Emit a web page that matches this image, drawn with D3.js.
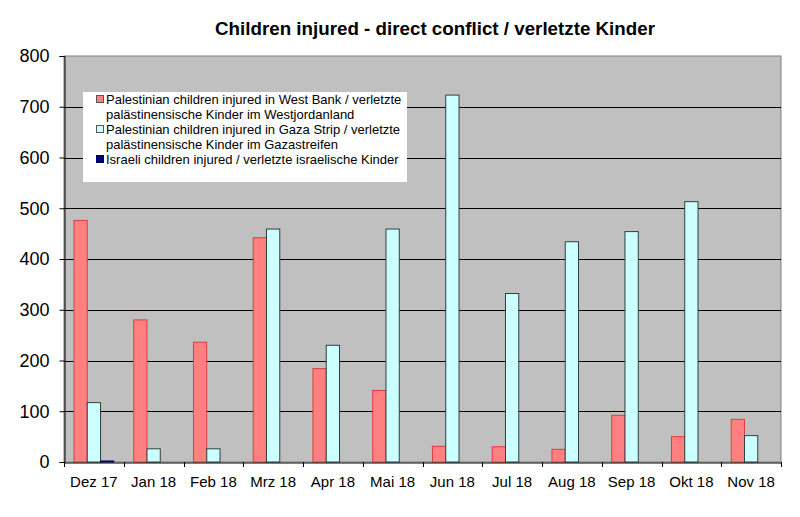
<!DOCTYPE html>
<html>
<head>
<meta charset="utf-8">
<script src="https://cdn.jsdelivr.net/npm/d3@7"></script>
<style>
  html, body { margin: 0; padding: 0; background: #fff; }
  svg { display: block; }
</style>
</head>
<body>
<svg id="chart" width="800" height="517"></svg>
<script>
const categories = ["Dez 17","Jan 18","Feb 18","Mrz 18","Apr 18","Mai 18","Jun 18","Jul 18","Aug 18","Sep 18","Okt 18","Nov 18"];
const westBank = [476, 280, 236, 442, 184, 141, 31, 30, 25, 92, 50, 84];
const gaza     = [117, 26, 26, 459, 230, 459, 723, 332, 434, 454, 513, 52];
const israeli  = [2, 0, 0, 0, 0, 0, 0, 0, 0, 0, 0, 0];
const seriesNames = [
  ["Palestinian children injured in West Bank / verletzte", "palästinensische Kinder im Westjordanland"],
  ["Palestinian children injured in Gaza Strip / verletzte", "palästinensische Kinder im Gazastreifen"],
  ["Israeli children injured / verletzte israelische Kinder"]
];
const yTicks = [0, 100, 200, 300, 400, 500, 600, 700, 800];
const titleText = "Children injured - direct conflict / verletzte Kinder";

const seriesValues = [westBank, gaza, israeli];
const fills = ["#FF8080", "#CCFFFF", "#000080"];
const strokes = ["#E03C3C", "#2F3F3F", "#000060"];

const svg = d3.select("#chart");
const pL = 64, pR = 781, pT = 56, pB = 462;

const x0 = d3.scaleBand().domain(categories).range([pL, pR]).padding(0);
const w = x0.bandwidth() / 4.5;
const x1 = d3.scaleBand().domain([0, 1, 2]).range([w * 0.75, w * 3.75]).padding(0);
const y = d3.scaleLinear().domain([0, 800]).range([pB, pT]);

// plot background
svg.append("rect").attr("x", pL).attr("y", pT).attr("width", pR - pL).attr("height", pB - pT)
  .attr("fill", "#C0C0C0").attr("stroke", "#808080").attr("stroke-width", 1);

// gridlines
svg.append("g").selectAll("line").data(yTicks.filter(t => t > 0 && t < 800)).join("line")
  .attr("x1", pL).attr("x2", pR)
  .attr("y1", d => Math.round(y(d)) + 0.5).attr("y2", d => Math.round(y(d)) + 0.5)
  .attr("stroke", "#000").attr("stroke-width", 1);

// bars
seriesValues.forEach((vals, si) => {
  svg.append("g").selectAll("rect").data(vals).join("rect")
    .attr("x", (d, i) => x0(categories[i]) + x1(si))
    .attr("y", d => y(d))
    .attr("width", x1.bandwidth())
    .attr("height", d => pB - y(d))
    .attr("fill", fills[si])
    .attr("stroke", d => d > 0 ? strokes[si] : "none")
    .attr("stroke-width", 1);
});

// y axis
const yAxis = d3.axisLeft(y).tickValues(yTicks).tickSize(5).tickPadding(10).tickFormat(d3.format("d"));
const gy = svg.append("g").attr("transform", `translate(${pL + 0.5},0)`).call(yAxis);
gy.select(".domain").attr("stroke", "#000");
gy.selectAll(".tick line").attr("stroke", "#000");
gy.selectAll("text").attr("font-family", "Liberation Sans, Arial, sans-serif").attr("font-size", 18).attr("fill", "#000");

// x axis
const xAxis = d3.axisBottom(x0).tickSize(0).tickPadding(14);
const gx = svg.append("g").attr("transform", `translate(0,${pB + 0.5})`).call(xAxis);
gx.select(".domain").attr("stroke", "#000");
gx.selectAll("text").attr("font-family", "Liberation Sans, Arial, sans-serif").attr("font-size", 15).attr("fill", "#000");
// category boundary ticks
svg.append("g").selectAll("line").data(categories.map(c => x0(c)).concat([pR])).join("line")
  .attr("x1", d => Math.round(d) + 0.5).attr("x2", d => Math.round(d) + 0.5)
  .attr("y1", pB).attr("y2", pB + 5).attr("stroke", "#000");

// title
svg.append("text").attr("x", 435).attr("y", 35).attr("text-anchor", "middle")
  .attr("font-family", "Liberation Sans Narrow, Arial Narrow, Liberation Sans, sans-serif")
  .attr("font-weight", "bold").attr("font-size", 18)
  .attr("textLength", 440).attr("lengthAdjust", "spacingAndGlyphs")
  .text(titleText);

// legend
const lg = svg.append("g");
lg.append("rect").attr("x", 83).attr("y", 92).attr("width", 324).attr("height", 90).attr("fill", "#fff");
const entryY = [104, 134, 164];
seriesNames.forEach((lines, si) => {
  lg.append("rect").attr("x", 96.5).attr("y", entryY[si] - 8.5).attr("width", 7).attr("height", 7)
    .attr("fill", fills[si]).attr("stroke", si === 2 ? "#000060" : "#555").attr("stroke-width", 1);
  lines.forEach((ln, li) => {
    lg.append("text").attr("x", 106).attr("y", entryY[si] + li * 14.5)
      .attr("font-family", "Liberation Sans, Arial, sans-serif").attr("font-size", 13).attr("fill", "#000")
      .text(ln);
  });
});
</script>
</body>
</html>
